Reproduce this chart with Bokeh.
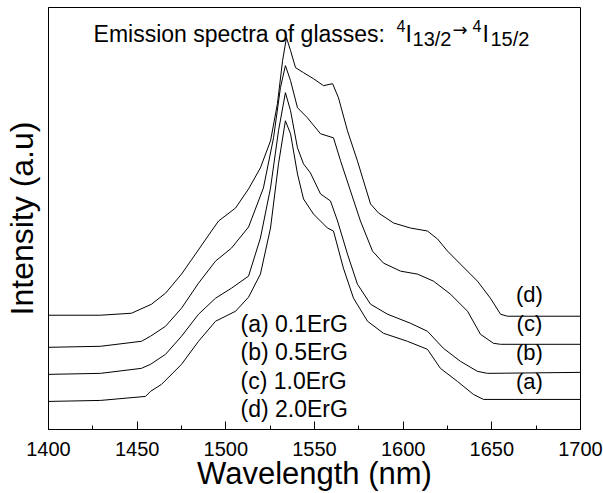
from bokeh.plotting import figure
from bokeh.models import Range1d, Label, SingleIntervalTicker, FixedTicker
from bokeh.embed import file_html
from bokeh.resources import INLINE

FONT = "Liberation Sans"

# wavelength (nm) / intensity (a.u., vertically offset spectra as in the figure)
wl_a = [1400, 1429.3, 1454.7, 1457.5, 1463.7, 1475.0, 1484.6, 1494.2, 1505.5, 1512.8, 1519.5, 1525.2,
        1529.7, 1533.6, 1536.5, 1540.4, 1543.8, 1549.4, 1557.3, 1560.7, 1566.3, 1572.0, 1579.9, 1588.9,
        1602.4, 1613.7, 1621.0, 1630.6, 1639.6, 1645.3, 1700]
int_a = [28, 29, 33, 38, 45, 65, 88, 108, 118, 132, 155, 201, 265, 308, 295, 255, 230, 215, 201, 198,
         161, 131, 108, 96, 88, 80, 61, 48, 35, 30, 30]

wl_b = [1400, 1429.3, 1452.4, 1457.5, 1466.0, 1475.0, 1484.6, 1494.2, 1503.2, 1512.8, 1519.5, 1525.2,
        1529.7, 1533.6, 1536.5, 1540.4, 1543.8, 1547.7, 1553.4, 1559.0, 1563.0, 1568.6, 1574.2, 1581.6,
        1591.2, 1604.1, 1613.7, 1622.7, 1632.3, 1641.9, 1647.6, 1700]
int_b = [55, 56, 61, 65, 75, 93, 115, 131, 141, 153, 191, 241, 298, 336, 318, 281, 265, 256, 235, 228,
         208, 175, 145, 125, 115, 106, 98, 81, 68, 58, 56, 57]

wl_c = [1400, 1429.3, 1452.4, 1457.5, 1466.0, 1475.0, 1484.6, 1494.2, 1503.2, 1512.8, 1521.2, 1526.9,
        1530.8, 1533.6, 1536.5, 1540.4, 1546.0, 1553.4, 1560.7, 1564.7, 1570.3, 1575.9, 1582.7, 1588.9,
        1598.5, 1608.1, 1617.1, 1626.7, 1636.3, 1643.6, 1650.9, 1654.9, 1700]
int_c = [82, 83, 88, 93, 103, 121, 146, 168, 181, 202, 241, 291, 341, 363, 348, 321, 311, 295, 291, 268,
         238, 208, 178, 166, 158, 155, 148, 135, 118, 95, 86, 85, 85]

wl_d = [1400, 1429.3, 1446.8, 1458.1, 1466.0, 1475.0, 1482.9, 1491.9, 1495.9, 1505.5, 1512.8, 1519.5,
        1525.2, 1529.1, 1532.0, 1534.2, 1536.5, 1539.3, 1543.8, 1549.4, 1555.1, 1560.2, 1563.5, 1568.6,
        1574.2, 1581.6, 1586.1, 1594.6, 1604.1, 1613.7, 1619.4, 1625.0, 1632.3, 1641.9, 1649.2, 1654.9,
        1658.8, 1700]
int_d = [114, 114, 116, 125, 136, 155, 175, 198, 208, 221, 240, 261, 288, 325, 368, 391, 378, 361, 356,
         350, 343, 345, 331, 298, 268, 225, 216, 206, 201, 198, 190, 178, 165, 148, 131, 115, 113, 113]

curve_tags = ["(a)", "(b)", "(c)", "(d)"]
legend_texts = ["(a) 0.1ErG", "(b) 0.5ErG", "(c) 1.0ErG", "(d) 2.0ErG"]

p = figure(width=603, height=493, output_backend="svg", toolbar_location=None,
           x_range=Range1d(1400, 1700), y_range=Range1d(0, 421),
           min_border_left=48, min_border_right=23, min_border_top=7, min_border_bottom=0)
p.background_fill_color = "white"
p.border_fill_color = "white"
p.outline_line_color = "black"
p.outline_line_width = 1
p.xgrid.visible = False
p.ygrid.visible = False

for wl, it in [(wl_a, int_a), (wl_b, int_b), (wl_c, int_c), (wl_d, int_d)]:
    p.line(wl, it, line_color="black", line_width=1)

# x axis
p.xaxis.ticker = SingleIntervalTicker(interval=50, num_minor_ticks=2)
p.xaxis.major_tick_in = 8
p.xaxis.major_tick_out = 0
p.xaxis.minor_tick_in = 4
p.xaxis.minor_tick_out = 0
p.xaxis.major_tick_line_color = "black"
p.xaxis.minor_tick_line_color = "black"
p.xaxis.axis_line_color = "black"
p.xaxis.major_label_text_font = FONT
p.xaxis.major_label_text_font_size = "20px"
p.xaxis.major_label_text_color = "black"
p.xaxis.major_label_standoff = 12
p.xaxis.axis_label = "Wavelength (nm)"
p.xaxis.axis_label_text_font = FONT
p.xaxis.axis_label_text_font_size = "31px"
p.xaxis.axis_label_text_font_style = "normal"
p.xaxis.axis_label_text_color = "black"
p.xaxis.axis_label_standoff = -3

# y axis
p.yaxis.ticker = FixedTicker(ticks=[])
p.yaxis.major_tick_out = 0
p.yaxis.minor_tick_out = 0
p.yaxis.axis_line_color = "black"
p.yaxis.axis_label = "Intensity (a.u)"
p.yaxis.axis_label_text_font = FONT
p.yaxis.axis_label_text_font_size = "32px"
p.yaxis.axis_label_text_font_style = "normal"
p.yaxis.axis_label_text_color = "black"
p.yaxis.axis_label_standoff = 9

def lab(x, y, t, size, align="left", base="alphabetic", font=FONT):
    p.add_layout(Label(x=x, y=y, text=t, text_font=font, text_font_size=size,
                       text_color="black", text_align=align, text_baseline=base))

# title: Emission spectra of glasses: 4I13/2 -> 4I15/2
lab(1425.4, 395, "Emission spectra of glasses:", "23px")
lab(1596.2, 403, "4", "16px")
lab(1601.3, 395, "I", "23px")
lab(1605.3, 390, "13/2", "20px")
lab(1627.8, 399, "\u2192", "18px", base="middle", font="DejaVu Sans")
lab(1639.1, 403, "4", "16px")
lab(1644.7, 395, "I", "23px")
lab(1649.2, 390, "15/2", "20px")

# legend text
leg_y = [105, 77, 48, 20]
for t, y in zip(legend_texts, leg_y):
    lab(1508.3, y, t, "23px", base="middle")

# curve tags
tag_y = [48, 77, 106, 135]
for t, y in zip(curve_tags, tag_y):
    lab(1671.2, y, t, "22px", align="center", base="middle")

open("out.html", "w").write(file_html(p, INLINE))
